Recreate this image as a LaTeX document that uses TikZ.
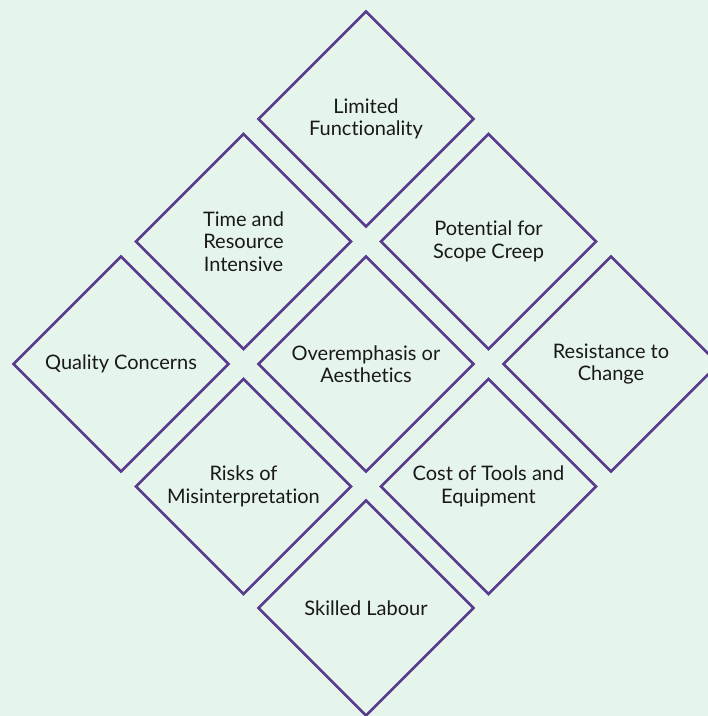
\documentclass[tikz,border=0pt]{standalone}
\usepackage{fontspec}
\setmainfont{Lato}[Ligatures=NoCommon]
\usetikzlibrary{shapes.geometric}
\definecolor{bgmint}{HTML}{E6F5EC}
\definecolor{linepurple}{HTML}{5A3C8C}

\begin{document}
\begin{tikzpicture}[x=1pt,y=1pt]
                \fill[bgmint] (0,0) rectangle (708,716);
                \useasboundingbox (0,0) rectangle (708,716);
                \begin{scope}[every node/.style={diamond,aspect=1,draw=linepurple,line width=2.6pt,
                        minimum width=216pt,minimum height=216pt,inner sep=0pt,align=center,
                        text=black!90,font=\fontsize{20}{22.5}\selectfont}]
                    \node (LF) at (366,597) {Limited\\Functionality};
                    \node (TR) at (243.5,474.5) {Time and\\Resource\\Intensive};
                    \node (PS) at (488.5,474.5) {Potential for\\Scope Creep};
                    \node (QC) at (121,352) {Quality Concerns};
                    \node (OA) at (366,352) {Overemphasis or\\Aesthetics};
                    \node (RC) at (611,352) {Resistance to\\Change};
                    \node (RM) at (243.5,229.5) {Risks of\\Misinterpretation};
                    \node (CT) at (488.5,229.5) {Cost of Tools and\\Equipment};
                    \node (SL) at (366,108) {Skilled Labour};
                \end{scope}
            \end{tikzpicture}
\end{document}
